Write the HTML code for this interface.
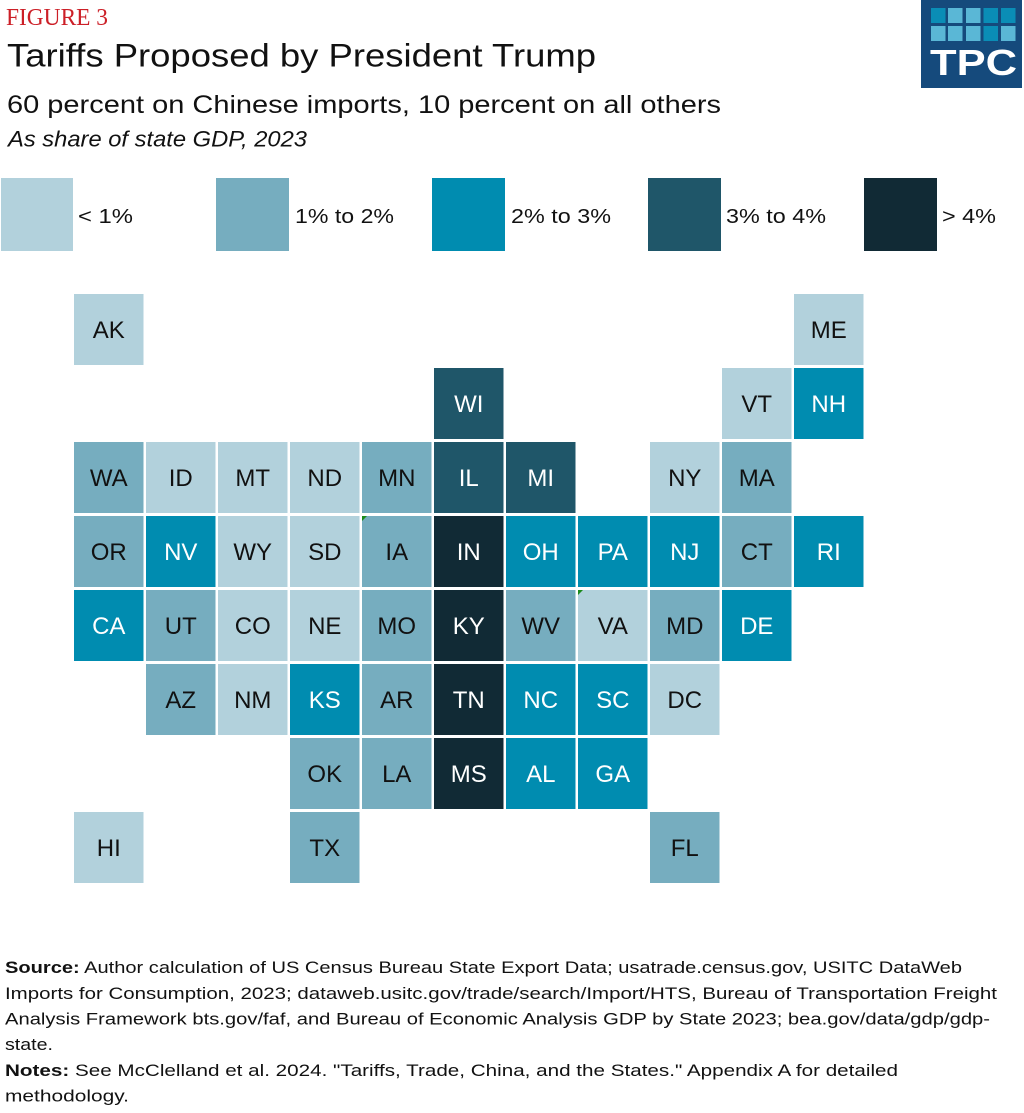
<!DOCTYPE html>
<html>
<head>
<meta charset="utf-8">
<style>
  html, body { margin: 0; padding: 0; background: #ffffff; }
  body { width: 1024px; height: 1113px; overflow: hidden; }
  svg { display: block; }
  text { font-family: "Liberation Sans", sans-serif; }
  text.serif { font-family: "Liberation Serif", serif; }
</style>
</head>
<body>
<svg width="1024" height="1113" viewBox="0 0 1024 1113" xmlns="http://www.w3.org/2000/svg">
  <rect x="0" y="0" width="1024" height="1113" fill="#ffffff"/>

  <!-- Header -->
  <text class="serif" x="6" y="25" font-size="24" fill="#cc1f27" textLength="102" lengthAdjust="spacingAndGlyphs" style="font-family:'Liberation Serif', serif;">FIGURE 3</text>
  <text x="7" y="66.5" font-size="32" fill="#111111" textLength="589" lengthAdjust="spacingAndGlyphs">Tariffs Proposed by President Trump</text>
  <text x="7" y="113" font-size="25" fill="#111111" textLength="714" lengthAdjust="spacingAndGlyphs">60 percent on Chinese imports, 10 percent on all others</text>
  <text x="8" y="146.5" font-size="22" font-style="italic" fill="#111111" textLength="299" lengthAdjust="spacingAndGlyphs">As share of state GDP, 2023</text>

  <!-- Logo -->
  <rect x="921" y="0" width="101" height="88" fill="#154a7c"/>
  <g>
    <rect x="931" y="8" width="14.5" height="15" fill="#0a8db6"/>
    <rect x="948" y="8" width="14.5" height="15" fill="#5ab7d6"/>
    <rect x="966" y="8" width="14.5" height="15" fill="#5ab7d6"/>
    <rect x="983.5" y="8" width="14.5" height="15" fill="#0a8db6"/>
    <rect x="1001" y="8" width="14.5" height="15" fill="#0a8db6"/>
    <rect x="931" y="26" width="14.5" height="15" fill="#5ab7d6"/>
    <rect x="948" y="26" width="14.5" height="15" fill="#5ab7d6"/>
    <rect x="966" y="26" width="14.5" height="15" fill="#5ab7d6"/>
    <rect x="983.5" y="26" width="14.5" height="15" fill="#0a8db6"/>
    <rect x="1001" y="26" width="14.5" height="15" fill="#5ab7d6"/>
  </g>
  <text x="930" y="75" font-size="36" font-weight="bold" fill="#ffffff" textLength="87" lengthAdjust="spacingAndGlyphs">TPC</text>

  <!-- Legend -->
  <rect x="1" y="178" width="72" height="73" fill="#b2d1dc"/>
  <text x="78" y="223" font-size="20" fill="#111111" textLength="55" lengthAdjust="spacingAndGlyphs">&lt; 1%</text>
  <rect x="216" y="178" width="73" height="73" fill="#76adbf"/>
  <text x="295" y="223" font-size="20" fill="#111111" textLength="99" lengthAdjust="spacingAndGlyphs">1% to 2%</text>
  <rect x="432" y="178" width="73" height="73" fill="#008cb0"/>
  <text x="511" y="223" font-size="20" fill="#111111" textLength="100" lengthAdjust="spacingAndGlyphs">2% to 3%</text>
  <rect x="648" y="178" width="73" height="73" fill="#1f5669"/>
  <text x="726" y="223" font-size="20" fill="#111111" textLength="100" lengthAdjust="spacingAndGlyphs">3% to 4%</text>
  <rect x="864" y="178" width="73" height="73" fill="#112a35"/>
  <text x="942" y="223" font-size="20" fill="#111111" textLength="54" lengthAdjust="spacingAndGlyphs">&gt; 4%</text>

  <!-- Tiles -->
  <g font-size="24" text-anchor="middle">
    <!-- Row 0 (y=294) -->
    <rect x="74" y="294" width="69.5" height="71" fill="#b2d1dc"/><text x="108.75" y="338" fill="#111">AK</text>
    <rect x="794" y="294" width="69.5" height="71" fill="#b2d1dc"/><text x="828.75" y="338" fill="#111">ME</text>

    <!-- Row 1 (y=368) -->
    <rect x="434" y="368" width="69.5" height="71" fill="#1f5669"/><text x="468.75" y="412" fill="#fff">WI</text>
    <rect x="722" y="368" width="69.5" height="71" fill="#b2d1dc"/><text x="756.75" y="412" fill="#111">VT</text>
    <rect x="794" y="368" width="69.5" height="71" fill="#008cb0"/><text x="828.75" y="412" fill="#fff">NH</text>

    <!-- Row 2 (y=442) -->
    <rect x="74" y="442" width="69.5" height="71" fill="#76adbf"/><text x="108.75" y="486" fill="#111">WA</text>
    <rect x="146" y="442" width="69.5" height="71" fill="#b2d1dc"/><text x="180.75" y="486" fill="#111">ID</text>
    <rect x="218" y="442" width="69.5" height="71" fill="#b2d1dc"/><text x="252.75" y="486" fill="#111">MT</text>
    <rect x="290" y="442" width="69.5" height="71" fill="#b2d1dc"/><text x="324.75" y="486" fill="#111">ND</text>
    <rect x="362" y="442" width="69.5" height="71" fill="#76adbf"/><text x="396.75" y="486" fill="#111">MN</text>
    <rect x="434" y="442" width="69.5" height="71" fill="#1f5669"/><text x="468.75" y="486" fill="#fff">IL</text>
    <rect x="506" y="442" width="69.5" height="71" fill="#1f5669"/><text x="540.75" y="486" fill="#fff">MI</text>
    <rect x="650" y="442" width="69.5" height="71" fill="#b2d1dc"/><text x="684.75" y="486" fill="#111">NY</text>
    <rect x="722" y="442" width="69.5" height="71" fill="#76adbf"/><text x="756.75" y="486" fill="#111">MA</text>

    <!-- Row 3 (y=516) -->
    <rect x="74" y="516" width="69.5" height="71" fill="#76adbf"/><text x="108.75" y="560" fill="#111">OR</text>
    <rect x="146" y="516" width="69.5" height="71" fill="#008cb0"/><text x="180.75" y="560" fill="#fff">NV</text>
    <rect x="218" y="516" width="69.5" height="71" fill="#b2d1dc"/><text x="252.75" y="560" fill="#111">WY</text>
    <rect x="290" y="516" width="69.5" height="71" fill="#b2d1dc"/><text x="324.75" y="560" fill="#111">SD</text>
    <rect x="362" y="516" width="69.5" height="71" fill="#76adbf"/><text x="396.75" y="560" fill="#111">IA</text>
    <rect x="434" y="516" width="69.5" height="71" fill="#112a35"/><text x="468.75" y="560" fill="#fff">IN</text>
    <rect x="506" y="516" width="69.5" height="71" fill="#008cb0"/><text x="540.75" y="560" fill="#fff">OH</text>
    <rect x="578" y="516" width="69.5" height="71" fill="#008cb0"/><text x="612.75" y="560" fill="#fff">PA</text>
    <rect x="650" y="516" width="69.5" height="71" fill="#008cb0"/><text x="684.75" y="560" fill="#fff">NJ</text>
    <rect x="722" y="516" width="69.5" height="71" fill="#76adbf"/><text x="756.75" y="560" fill="#111">CT</text>
    <rect x="794" y="516" width="69.5" height="71" fill="#008cb0"/><text x="828.75" y="560" fill="#fff">RI</text>

    <!-- Row 4 (y=590) -->
    <rect x="74" y="590" width="69.5" height="71" fill="#008cb0"/><text x="108.75" y="634" fill="#fff">CA</text>
    <rect x="146" y="590" width="69.5" height="71" fill="#76adbf"/><text x="180.75" y="634" fill="#111">UT</text>
    <rect x="218" y="590" width="69.5" height="71" fill="#b2d1dc"/><text x="252.75" y="634" fill="#111">CO</text>
    <rect x="290" y="590" width="69.5" height="71" fill="#b2d1dc"/><text x="324.75" y="634" fill="#111">NE</text>
    <rect x="362" y="590" width="69.5" height="71" fill="#76adbf"/><text x="396.75" y="634" fill="#111">MO</text>
    <rect x="434" y="590" width="69.5" height="71" fill="#112a35"/><text x="468.75" y="634" fill="#fff">KY</text>
    <rect x="506" y="590" width="69.5" height="71" fill="#76adbf"/><text x="540.75" y="634" fill="#111">WV</text>
    <rect x="578" y="590" width="69.5" height="71" fill="#b2d1dc"/><text x="612.75" y="634" fill="#111">VA</text>
    <rect x="650" y="590" width="69.5" height="71" fill="#76adbf"/><text x="684.75" y="634" fill="#111">MD</text>
    <rect x="722" y="590" width="69.5" height="71" fill="#008cb0"/><text x="756.75" y="634" fill="#fff">DE</text>

    <!-- Row 5 (y=664) -->
    <rect x="146" y="664" width="69.5" height="71" fill="#76adbf"/><text x="180.75" y="708" fill="#111">AZ</text>
    <rect x="218" y="664" width="69.5" height="71" fill="#b2d1dc"/><text x="252.75" y="708" fill="#111">NM</text>
    <rect x="290" y="664" width="69.5" height="71" fill="#008cb0"/><text x="324.75" y="708" fill="#fff">KS</text>
    <rect x="362" y="664" width="69.5" height="71" fill="#76adbf"/><text x="396.75" y="708" fill="#111">AR</text>
    <rect x="434" y="664" width="69.5" height="71" fill="#112a35"/><text x="468.75" y="708" fill="#fff">TN</text>
    <rect x="506" y="664" width="69.5" height="71" fill="#008cb0"/><text x="540.75" y="708" fill="#fff">NC</text>
    <rect x="578" y="664" width="69.5" height="71" fill="#008cb0"/><text x="612.75" y="708" fill="#fff">SC</text>
    <rect x="650" y="664" width="69.5" height="71" fill="#b2d1dc"/><text x="684.75" y="708" fill="#111">DC</text>

    <!-- Row 6 (y=738) -->
    <rect x="290" y="738" width="69.5" height="71" fill="#76adbf"/><text x="324.75" y="782" fill="#111">OK</text>
    <rect x="362" y="738" width="69.5" height="71" fill="#76adbf"/><text x="396.75" y="782" fill="#111">LA</text>
    <rect x="434" y="738" width="69.5" height="71" fill="#112a35"/><text x="468.75" y="782" fill="#fff">MS</text>
    <rect x="506" y="738" width="69.5" height="71" fill="#008cb0"/><text x="540.75" y="782" fill="#fff">AL</text>
    <rect x="578" y="738" width="69.5" height="71" fill="#008cb0"/><text x="612.75" y="782" fill="#fff">GA</text>

    <!-- Row 7 (y=812) -->
    <rect x="74" y="812" width="69.5" height="71" fill="#b2d1dc"/><text x="108.75" y="856" fill="#111">HI</text>
    <rect x="290" y="812" width="69.5" height="71" fill="#76adbf"/><text x="324.75" y="856" fill="#111">TX</text>
    <rect x="650" y="812" width="69.5" height="71" fill="#76adbf"/><text x="684.75" y="856" fill="#111">FL</text>
  </g>

  <!-- small green corner marks -->
  <polygon points="362,516 367,516 362,521" fill="#1a8a1a"/>
  <polygon points="578,590 583,590 578,595" fill="#1a8a1a"/>

  <!-- Footer -->
  <g font-size="17" fill="#111111">
    <text x="5" y="973" textLength="957" lengthAdjust="spacingAndGlyphs"><tspan font-weight="bold">Source:</tspan> Author calculation of US Census Bureau State Export Data; usatrade.census.gov, USITC DataWeb</text>
    <text x="5" y="999" textLength="992" lengthAdjust="spacingAndGlyphs">Imports for Consumption, 2023; dataweb.usitc.gov/trade/search/Import/HTS, Bureau of Transportation Freight</text>
    <text x="5" y="1024.5" textLength="985" lengthAdjust="spacingAndGlyphs">Analysis Framework bts.gov/faf, and Bureau of Economic Analysis GDP by State 2023; bea.gov/data/gdp/gdp-</text>
    <text x="5" y="1050" textLength="48" lengthAdjust="spacingAndGlyphs">state.</text>
    <text x="5" y="1076" textLength="893" lengthAdjust="spacingAndGlyphs"><tspan font-weight="bold">Notes:</tspan> See McClelland et al. 2024. "Tariffs, Trade, China, and the States." Appendix A for detailed</text>
    <text x="5" y="1101.5" textLength="124" lengthAdjust="spacingAndGlyphs">methodology.</text>
  </g>
</svg>
</body>
</html>
